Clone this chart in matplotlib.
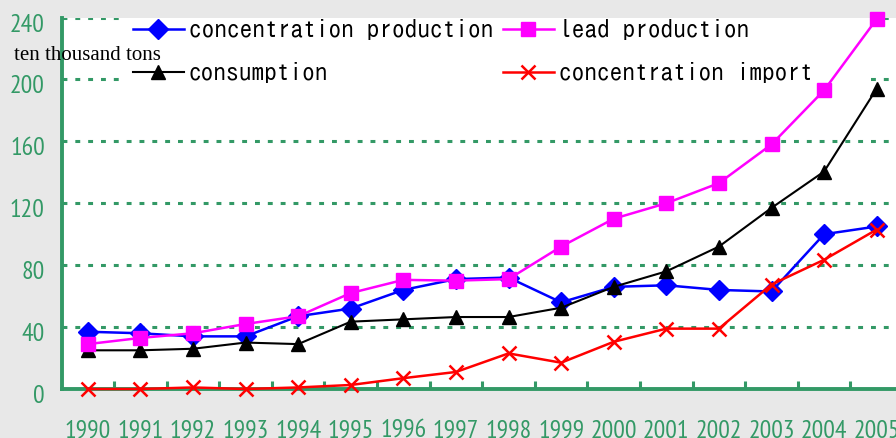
import matplotlib

matplotlib.use("Agg")
import matplotlib.pyplot as plt
import matplotlib.transforms as mtransforms
from matplotlib.patches import Rectangle

years = [str(y) for y in range(1990, 2006)]

concentration_production = [37, 36, 34, 34, 47, 52, 64, 71, 72, 56, 66, 67, 64, 63, 100, 105]
lead_production = [29, 33, 36, 42, 47, 62, 70.5, 70, 71, 92, 110, 120, 133, 158, 193, 239]
consumption = [25, 25, 26, 30, 29, 43.5, 45, 46.5, 46.5, 52.5, 66, 76, 92, 117, 140.5, 194]
concentration_import = [0, 0, 1, 0, 1, 2.6, 7, 11, 23, 17, 30.5, 39, 39, 67.5, 83.5, 103]

y_ticks = [0, 40, 80, 120, 160, 200, 240]
unit_label = "ten thousand tons"

GREEN = "#339966"
BG = "#e8e8e8"
TICK_FONT = ["PT Sans Narrow", "DejaVu Sans"]
LEGEND_FONT = ["IPAGothic", "DejaVu Sans"]

fig = plt.figure(figsize=(8.96, 4.38), dpi=100, facecolor=BG)
# axes runs past the right edge of the figure, like the cropped original
ax = fig.add_axes([61.5 / 896, 49 / 438, 841.5 / 896, 371.5 / 438])
ax.set_facecolor("white")

x = list(range(len(years)))

series = [
    (concentration_production, "concentration production", "blue", "D", 10, 1.8),
    (consumption, "consumption", "black", "^", 10, 1.5),
    (lead_production, "lead production", "magenta", "s", 10, 1.8),
    (concentration_import, "concentration import", "red", "x", 10, 1.8),
]

handles = []
for values, label, color, marker, ms, lw in series:
    (line,) = ax.plot(x, values, color=color, marker=marker, markersize=ms,
                      linewidth=lw, markeredgewidth=1.8 if marker == "x" else 1,
                      markeredgecolor=color, markerfacecolor=color,
                      label=label, zorder=3, clip_on=False)
    handles.append(line)

# white box behind the legend, hides the grid but not the lines
ax.add_patch(Rectangle((0.0755, 0.79), 0.878, 0.21, transform=ax.transAxes,
                       facecolor="white", edgecolor="none", zorder=1))

ax.set_xlim(-0.5, 15.5)
ax.set_ylim(0, 240)
ax.set_yticks(y_ticks)
ax.set_xticks(x)
ax.set_xticklabels(years)
ax.set_xticks([i + 0.5 for i in x[:-1]], minor=True)

ax.grid(axis="y", color=GREEN, linewidth=2.2, linestyle=(0, (1.6, 2.6)), zorder=0)
ax.set_axisbelow(True)

for side in ("top", "right"):
    ax.spines[side].set_visible(False)
for side in ("left", "bottom"):
    ax.spines[side].set_color(GREEN)
    ax.spines[side].set_linewidth(2.8)
    ax.spines[side].set_zorder(2)

ax.tick_params(axis="x", which="major", length=0, pad=22, labelsize=18.5, labelcolor=GREEN)
ax.tick_params(axis="x", which="minor", direction="in", length=6, width=2.2, color=GREEN)
ax.tick_params(axis="y", length=0, pad=12, labelsize=18.5, labelcolor=GREEN)
for lab in ax.get_xticklabels() + ax.get_yticklabels():
    lab.set_fontfamily(TICK_FONT)

shift = mtransforms.ScaledTranslation(0, -5 / 100, fig.dpi_scale_trans)
for lab in ax.get_yticklabels():
    lab.set_transform(lab.get_transform() + shift)

fig.text(14 / 896, 1 - 60 / 438, unit_label, fontsize=15, family="Liberation Serif",
         color="black", va="baseline", ha="left")

legend_kw = dict(loc="upper left", frameon=False, borderpad=0, borderaxespad=0,
                 handlelength=2.0, handletextpad=0.2, labelspacing=0.85, numpoints=1,
                 prop={"family": LEGEND_FONT, "size": 18.3})
leg1 = fig.legend(handles[:2], [h.get_label() for h in handles[:2]],
                  bbox_to_anchor=(133 / 896, 1 - 19 / 438), **legend_kw)
leg2 = fig.legend(handles[2:], [h.get_label() for h in handles[2:]],
                  bbox_to_anchor=(503 / 896, 1 - 19 / 438), **legend_kw)

fig.savefig("out.png", dpi=100, facecolor=BG)
